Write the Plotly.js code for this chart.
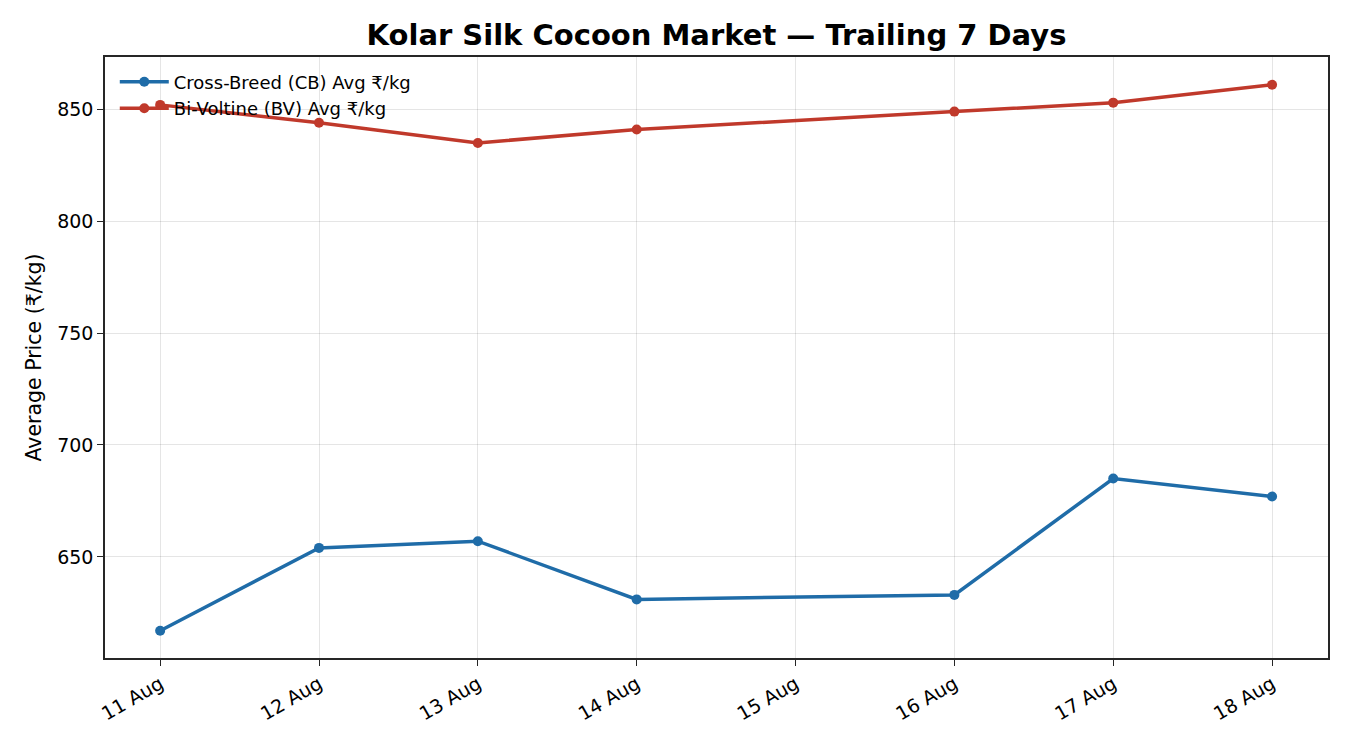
<!DOCTYPE html>
<html>
<head>
<meta charset="utf-8">
<script src="https://cdn.plot.ly/plotly-3.0.1.min.js"></script>
<style>
  body { margin: 0; background: #fff; }
  #chart { width: 1350px; height: 750px; }
</style>
</head>
<body>
<div id="chart"></div>
<script>
// trailing 7 days (no market on 15 Aug)
var days = ['2024-08-11', '2024-08-12', '2024-08-13', '2024-08-14', '2024-08-16', '2024-08-17', '2024-08-18'];
var cbAvg = [617, 654, 657, 631, 633, 685, 677];
var bvAvg = [852, 844, 835, 841, 849, 853, 861];
var tickDays = ['2024-08-11', '2024-08-12', '2024-08-13', '2024-08-14', '2024-08-15', '2024-08-16', '2024-08-17', '2024-08-18'];
var tickText = ['11 Aug', '12 Aug', '13 Aug', '14 Aug', '15 Aug', '16 Aug', '17 Aug', '18 Aug'];

var cb = {
  type: 'scatter',
  mode: 'lines+markers',
  name: 'Cross-Breed (CB) Avg ₹/kg',
  x: days,
  y: cbAvg,
  line: { color: '#1f6ca8', width: 3.5 },
  marker: { color: '#1f6ca8', size: 10 }
};

var bv = {
  type: 'scatter',
  mode: 'lines+markers',
  name: 'Bi-Voltine (BV) Avg ₹/kg',
  x: days,
  y: bvAvg,
  line: { color: '#c0392b', width: 3.5 },
  marker: { color: '#c0392b', size: 10 }
};

var layout = {
  width: 1350,
  height: 750,
  paper_bgcolor: '#fff',
  plot_bgcolor: '#fff',
  font: { family: 'DejaVu Sans', size: 19, color: '#000' },
  margin: { l: 105, r: 22, t: 57, b: 92 },
  title: {
    text: '<b>Kolar Silk Cocoon Market — Trailing 7 Days</b>',
    font: { size: 29 },
    xref: 'paper', x: 0.5, xanchor: 'center',
    yref: 'container', y: 0.953, yanchor: 'middle'
  },
  showlegend: true,
  legend: {
    x: 0.008, y: 0.989, xanchor: 'left', yanchor: 'top',
    bgcolor: 'rgba(0,0,0,0)',
    font: { size: 18 },
    itemwidth: 49,
    tracegroupgap: 0
  },
  xaxis: {
    type: 'date',
    range: ['2024-08-10 15:40', '2024-08-18 08:27'],
    tickmode: 'array',
    tickvals: tickDays,
    ticktext: tickText,
    tickangle: -30,
    ticks: 'outside', ticklen: 6, tickcolor: '#262626',
    showgrid: true, gridcolor: 'rgba(0,0,0,0.1)',
    showline: true, linecolor: '#262626', linewidth: 1.5, mirror: true,
    zeroline: false,
    tickfont: { size: 19 }
  },
  yaxis: {
    range: [604.8, 873.4],
    tickvals: [650, 700, 750, 800, 850],
    ticks: 'outside', ticklen: 6, tickcolor: '#262626',
    showgrid: true, gridcolor: 'rgba(0,0,0,0.1)',
    showline: true, linecolor: '#262626', linewidth: 1.5, mirror: true,
    zeroline: false,
    tickfont: { size: 19 },
    title: { text: 'Average Price (₹/kg)', font: { size: 20.5 }, standoff: 10 }
  }
};

Plotly.newPlot('chart', [cb, bv], layout, { displayModeBar: false });
</script>
</body>
</html>
